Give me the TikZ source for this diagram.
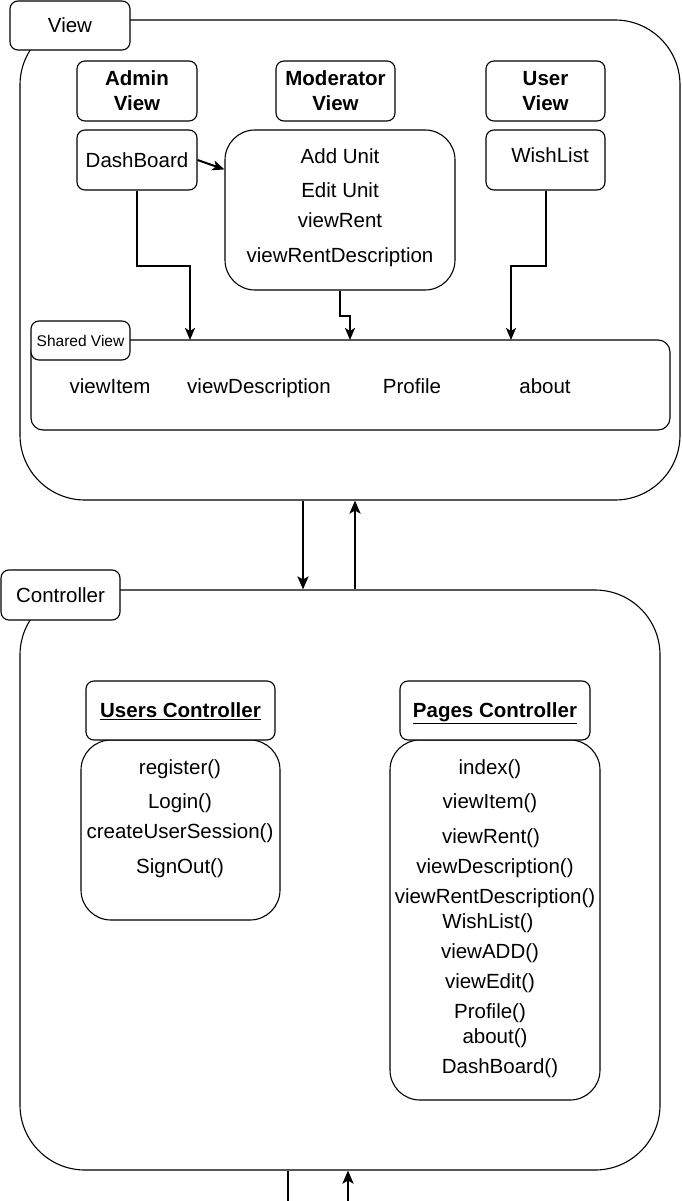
\documentclass[tikz,border=0pt]{standalone}
\usepackage{fontspec}
\setmainfont{Liberation Sans}
\usetikzlibrary{arrows.meta}

\tikzset{
  box/.style={draw, line width=1.1pt, rounded corners=8pt, fill=white, inner sep=0pt, align=center},
  container/.style={draw, line width=1.1pt, rounded corners=65pt, inner sep=0pt},
  tab/.style={draw, line width=1.1pt, rounded corners=8pt, fill=white, inner sep=0pt},
  txt/.style={inner sep=0pt, align=center, text height=17pt, text depth=2.5pt},
  arr/.style={line width=2pt, -{Stealth[length=12pt,width=10pt,inset=3pt]}},
  link/.style={line width=2.6pt, -{Stealth[length=13pt,width=11pt,inset=3pt]}}
}

\begin{document}
\begin{tikzpicture}[x=1pt, y=-1pt, font=\fontsize{20.5}{25}\selectfont]
\useasboundingbox (0,0) rectangle (681,1201);

%% view part
\node[container, minimum width=660, minimum height=480] (view) at (350,260) {};
\node[tab, minimum width=120, minimum height=49] (viewtab) at (70,25.5) {View};

\node[box, minimum width=120, minimum height=60] (admin) at (137,91) {\textbf{Admin}\\\textbf{View}};
\node[box, minimum width=119, minimum height=60] (moder) at (335.5,91) {\textbf{Moderator}\\\textbf{View}};
\node[box, minimum width=119, minimum height=60] (user) at (545.5,91) {\textbf{User}\\\textbf{View}};

\node[box, minimum width=120, minimum height=60] (dash) at (137,160) {DashBoard};
\node[box, rounded corners=30pt, minimum width=230, minimum height=160] (mod) at (340,210) {};
\foreach \y/\t in {156/Add Unit, 190/Edit Unit, 220/viewRent, 255/viewRentDescription}
  \node[txt] at (340,\y) {\t};
\node[box, minimum width=119, minimum height=60] (wish) at (545.5,160) {};
\node[txt] (wishtxt) at (550,155) {WishList};

% shared view
\node[box, rounded corners=12pt, minimum width=639, minimum height=90] (shared) at (350.5,385) {};
\node[tab, minimum width=99, minimum height=39, font=\fontsize{15.5}{18}\selectfont] (sharedtab) at (80.5,340.5) {Shared View};
\foreach \x/\t in {110/viewItem, 259/viewDescription, 412/Profile, 545/about}
  \node[txt] at (\x,386) {\t};

\coordinate (in1) at (190,340);
\coordinate (in2) at (350,340);
\coordinate (in3) at (511,340);

\draw[arr] (dash.east) -- (mod);
\draw[arr] (dash.south) -- ++(0,75) -| (in1);
\draw[arr] (mod.south) -- ++(0,25) -| (in2);
\draw[arr] (wish.south) -- ++(0,75) -| (in3);

%% controller part
\node[container, minimum width=640, minimum height=580] (ctrl) at (340,880) {};
\node[tab, minimum width=119, minimum height=50] (ctrltab) at (60.5,595) {Controller};

\draw[link] (view.south -| 303,0) -- (ctrl.north -| 303,0);
\draw[link] (ctrl.north -| 355,0) -- (view.south -| 355,0);

% users controller
\node[box, rounded corners=30pt, minimum width=199, minimum height=180] (usersbody) at (180.5,830) {};
\node[box, txt, minimum width=189, minimum height=59] (usershead) at (180.5,710.5) {\textbf{\underline{Users Controller}}};
\foreach \y/\t in {767/register(), 801/Login(), 831/createUserSession(), 866/SignOut()}
  \node[txt] at (180,\y) {\t};

% pages controller
\node[box, rounded corners=30pt, minimum width=210, minimum height=360] (pagesbody) at (495,920) {};
\node[box, txt, minimum width=190, minimum height=59] (pageshead) at (495,710.5) {\textbf{\underline{Pages Controller}}};
\foreach \x/\y/\t in {490/767/index(), 490/801/viewItem(), 491/836/viewRent(),
    495/866/viewDescription(), 495/896/viewRentDescription(), 488/921/WishList(),
    490/951/viewADD(), 490/981/viewEdit(), 490/1011/Profile(), 495/1036/about(),
    500/1066/DashBoard()}
  \node[txt] at (\x,\y) {\t};

% lines leaving at the bottom
\coordinate (cut1) at (288,1201);
\coordinate (cut2) at (348,1201);
\draw[line width=2.6pt] (ctrl.south -| cut1) -- (cut1);
\draw[link] (cut2) -- (ctrl.south -| cut2);

\end{tikzpicture}
\end{document}
